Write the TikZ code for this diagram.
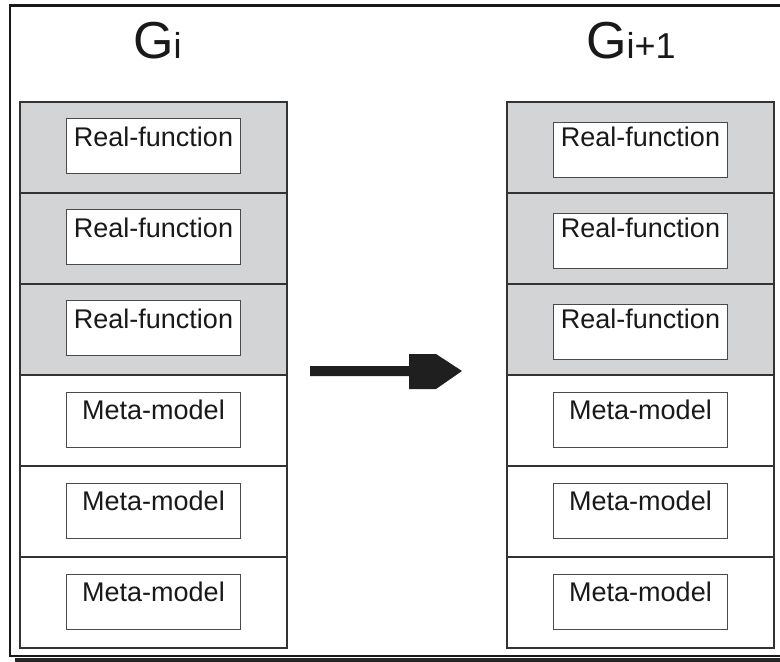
\documentclass[tikz,border=0pt]{standalone}
\usepackage{fontspec}
\setmainfont{Liberation Sans}
\usetikzlibrary{calc}
\definecolor{rowgray}{HTML}{D3D4D6}
\definecolor{linegray}{HTML}{333333}
\definecolor{boxline}{HTML}{4A4A4A}
\tikzset{
  rowcell/.style={draw=linegray, line width=1.3pt, anchor=north west, minimum width=267pt, minimum height=91pt, inner sep=0pt, outer sep=0pt},
  grayrow/.style={rowcell, fill=rowgray},
  whiterow/.style={rowcell, fill=white},
  ibox/.style={draw=boxline, line width=1pt, fill=white, anchor=north, minimum width=174pt, minimum height=55pt, inner sep=0pt},
  lbl/.style={anchor=base, inner sep=0pt, font=\fontsize{27}{30}\selectfont, text=black!90},
  ttl/.style={anchor=base west, inner sep=0pt, font=\fontsize{52}{56}\selectfont, text=black!90},
}
\newcommand{\smalltt}[1]{{\fontsize{36}{40}\selectfont #1}}
\begin{document}
\begin{tikzpicture}[x=1pt,y=-1pt]
\useasboundingbox (0,0) rectangle (780,662);
% frame with shadow
\draw[line width=3.5pt, black!85] (15,660) -- (782,660);
\draw[line width=2.2pt, black!90, fill=white] (782,5.5) -- (10,5.5) -- (10,656) -- (782,656);
% titles
\node[ttl] (tl) at (133,58.5) {G\smalltt{i}};
\node[ttl] (tr) at (586,58.5) {G\smalltt{i+1}};
% left column rows
\node[grayrow] (L1) at (20,102) {};
\node[grayrow] (L2) at (20,193) {};
\node[grayrow] (L3) at (20,284) {};
\node[whiterow] (L4) at (20,375) {};
\node[whiterow] (L5) at (20,466) {};
\node[whiterow] (L6) at (20,557) {};
% right column rows
\node[grayrow] (R1) at (507,102) {};
\node[grayrow] (R2) at (507,193) {};
\node[grayrow] (R3) at (507,284) {};
\node[whiterow] (R4) at (507,375) {};
\node[whiterow] (R5) at (507,466) {};
\node[whiterow] (R6) at (507,557) {};
% inner boxes left
\foreach \i/\t/\o in {1/Real-function/16,2/Real-function/16,3/Real-function/16,4/Meta-model/17,5/Meta-model/17,6/Meta-model/17}{
  \node[ibox] (lb\i) at ($(L\i.north)+(0,\o)$) {};
  \node[lbl] (lt\i) at ($(L\i.north)+(0,44.5)$) {\t};
}
\foreach \i/\t/\o in {1/Real-function/20,2/Real-function/20,3/Real-function/20,4/Meta-model/17,5/Meta-model/17,6/Meta-model/17}{
  \node[ibox] (rb\i) at ($(R\i.north)+(0,\o)$) {};
  \node[lbl] (rt\i) at ($(R\i.north)+(0,44.5)$) {\t};
}
% arrow
\coordinate (as) at (310,371);
\coordinate (ae) at (462,371);
\fill[black!88] ($(as)+(0,-5)$) -- (409,366) -- (409,354) -- (436,354) -- (ae) -- (436,389) -- (409,389) -- (409,376) -- ($(as)+(0,5)$) -- cycle;
\end{tikzpicture}
\end{document}
